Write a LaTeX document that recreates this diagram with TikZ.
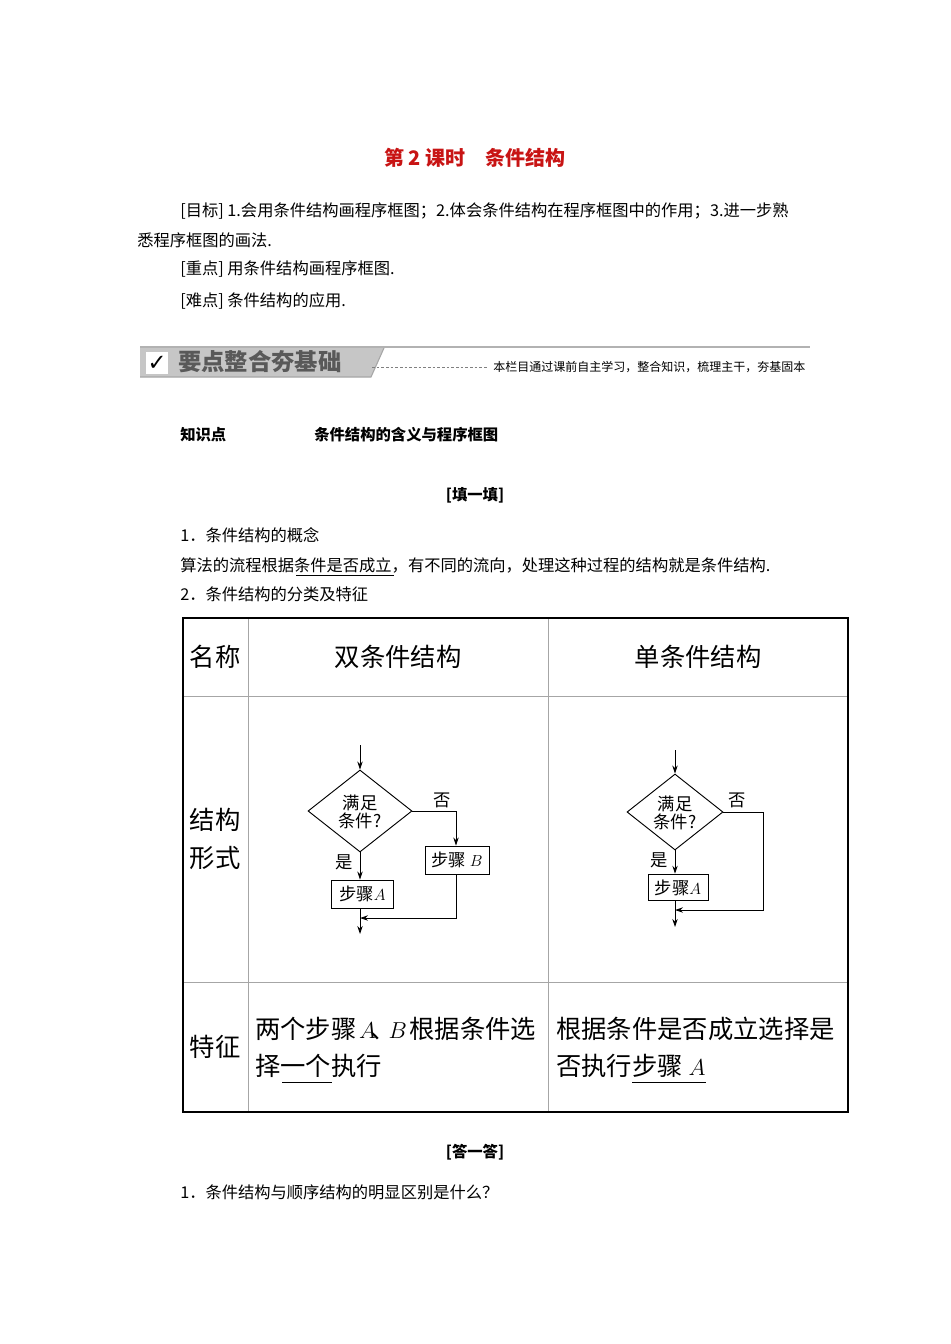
\documentclass[tikz,border=0pt]{standalone}
\usepackage{fontspec}
\setmainfont{Noto Sans CJK SC}
\newfontfamily\dejavu{DejaVu Sans}
\usetikzlibrary{shapes.geometric,arrows.meta}
\definecolor{titlered}{RGB}{200,20,20}
\tikzset{
  body/.style={anchor=west,inner sep=0,font=\fontsize{12.2}{14}\selectfont},
  bodyb/.style={body,font=\fontsize{11.5}{13}\selectfont\bfseries},
  cell/.style={inner sep=0,font=\fontsize{19}{22}\selectfont},
  fc/.style={inner sep=0,font=\fontsize{13}{14}\selectfont},
  fbox/.style={draw,line width=0.7pt,inner sep=0},
  dia/.style={draw,diamond,line width=0.7pt,inner sep=0,align=center,font=\fontsize{13}{13.5}\selectfont,text depth=0pt},
  fl/.style={line width=0.7pt},
  fla/.style={line width=0.7pt,-{Stealth[length=6pt,width=4pt]}},
}
\begin{document}
\begin{tikzpicture}[x=0.75pt,y=-0.75pt]
\useasboundingbox[fill=white] (0,0) rectangle (950,1344);
\node[inner sep=0,text=titlered,font=\fontsize{15}{18}\selectfont\bfseries] (title) at (475,158) {第 2 课时\quad 条件结构};
\node[body] (g1) at (180,211) {[目标] 1.会用条件结构画程序框图；2.体会条件结构在程序框图中的作用；3.进一步熟};
\node[body] (g2) at (137,240) {悉程序框图的画法.};
\node[body] (g3) at (180,269) {[重点] 用条件结构画程序框图.};
\node[body] (g4) at (180,301) {[难点] 条件结构的应用.};
% banner
\draw[gray!60,line width=2pt] (140,347) -- (810,347);
\fill[gray!45] (140,348) -- (384,348) -- (371,377) -- (140,377) -- cycle;
\draw[gray!70,line width=0.8pt] (140,377) -- (371,377) -- (384,348);
\fill[white] (146,352) rectangle (168,374);
\node[inner sep=0,font=\dejavu\fontsize{17}{17}\selectfont\bfseries] (chk) at (157,363) {✓};
\node[inner sep=0,anchor=west,text=black!65,font=\fontsize{17.5}{18}\selectfont\bfseries] (bt) at (178,362) {要点整合夯基础};
\draw[gray,line width=0.5pt,dash pattern=on 2pt off 1.5pt] (372,367) -- (488,367);
\node[inner sep=0,anchor=west,font=\fontsize{9}{10}\selectfont] (bs) at (493,367) {本栏目通过课前自主学习，整合知识，梳理主干，夯基固本};
\node[bodyb] (k1) at (180,435) {知识点};
\node[bodyb] (k2) at (314,435) {条件结构的含义与程序框图};
\node[inner sep=0,font=\fontsize{11.5}{13}\selectfont\bfseries] (tt) at (475,495) {[填一填]};
\node[body] (p1) at (180,535) {1．条件结构的概念};
\node[body] (p2) at (180,565) {算法的流程根据条件是否成立，有不同的流向，处理这种过程的结构就是条件结构.};
\draw[line width=0.5pt] (296,575) -- (394,575);
\node[body] (p3) at (180,594) {2．条件结构的分类及特征};
% table
\draw[gray!70,line width=0.7pt] (183,696) -- (848,696) (183,982) -- (848,982) (248,618) -- (248,1112) (548,618) -- (548,1112);
\draw[line width=1.5pt] (183,618) rectangle (848,1112);
\node[cell] (h1) at (215,657) {名称};
\node[cell] (h2) at (398,657) {双条件结构};
\node[cell] (h3) at (698,657) {单条件结构};
\node[cell] (r1a) at (215,820) {结构};
\node[cell] (r1b) at (215,858) {形式};
\node[cell] (r2) at (215,1047) {特征};
\node[cell,anchor=west] (f1) at (255,1029) {两个步骤\hspace{0.1em}$A$\hspace{-0.2em}、\hspace{-0.3em}$B$\hspace{0.1em}根据条件选};
\node[cell,anchor=west] (f2) at (255,1066) {择一个执行};
\draw[line width=0.6pt] (282,1082) -- (332,1082);
\node[cell,anchor=west] (f3) at (556,1029) {根据条件是否成立选择是};
\node[cell,anchor=west] (f4) at (556,1066) {否执行步骤 $A$};
\draw[line width=0.6pt] (632,1082) -- (706,1082);
% left flowchart
\coordinate (ls) at (360,745);
\node[dia,minimum width=78pt,minimum height=61.5pt] (ld) at (360,811) {满足\\条件?};
\node[fbox,minimum width=47pt,minimum height=21pt] (la) at (362.5,894) {};
\node[fc] (lat) at (362.5,894) {步骤$A$};
\node[fbox,minimum width=48pt,minimum height=21pt] (lb) at (457,860) {};
\node[fc] (lbt) at (457,860) {步骤 $B$};
\node[fc] (lyes) at (344,862) {是};
\node[fc] (lno) at (442,800) {否};
\coordinate (lbr) at (456,811);
\coordinate (lj) at (456,918);
\coordinate (lm) at (360,918);
\coordinate (le) at (360,934);
\draw[fla] (ls) -- (ld.north);
\draw[fla] (ld.south) -- (ld.south |- la.north);
\draw[fla] (ld.east) -- (lbr) -- (lbr |- lb.north);
\draw[fla] (lbr |- lb.south) -- (lj) -- (lm);
\draw[fla] (ld.south |- la.south) -- (le);
% right flowchart
\coordinate (rs) at (675,750);
\node[dia,minimum width=72pt,minimum height=57pt] (rd) at (675,812) {满足\\条件?};
\node[fbox,minimum width=45pt,minimum height=20pt] (ra) at (678,887.5) {};
\node[fc] (rat) at (678,887.5) {步骤$A$};
\node[fc] (ryes) at (659,860) {是};
\node[fc] (rno) at (737,800) {否};
\coordinate (rr) at (763,812);
\coordinate (rj) at (763,910);
\coordinate (rm) at (675,910);
\coordinate (re) at (675,927);
\draw[fla] (rs) -- (rd.north);
\draw[fla] (rd.south) -- (rd.south |- ra.north);
\draw[fla] (rd.east) -- (rr) -- (rj) -- (rm);
\draw[fla] (rd.south |- ra.south) -- (re);
\node[inner sep=0,font=\fontsize{11.5}{13}\selectfont\bfseries] (dd) at (475,1152) {[答一答]};
\node[body] (q1) at (180,1192) {1．条件结构与顺序结构的明显区别是什么？};
\end{tikzpicture}
\end{document}
